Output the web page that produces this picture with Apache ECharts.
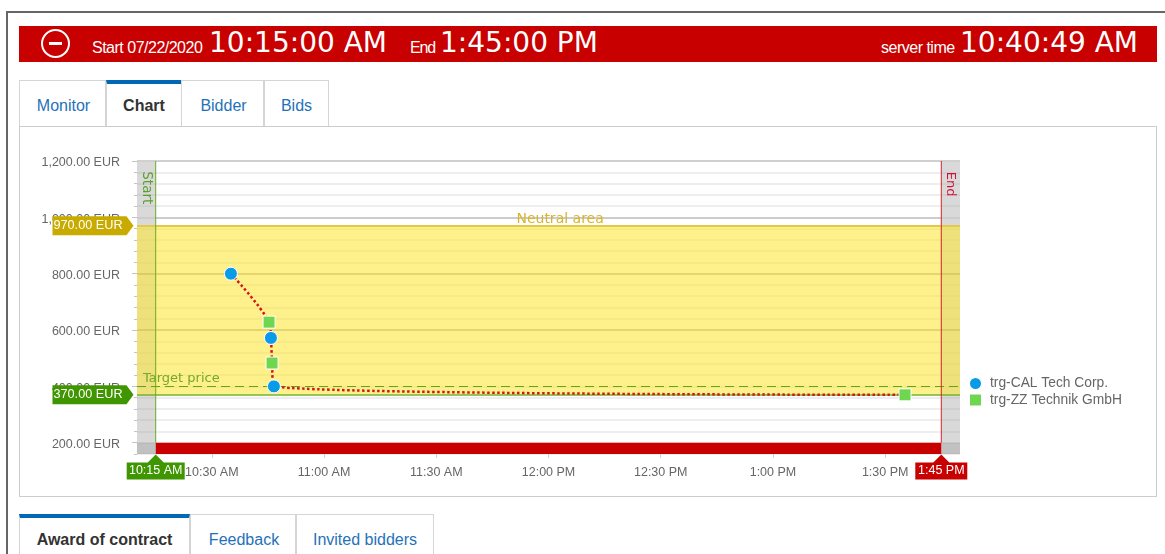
<!DOCTYPE html>
<html>
<head>
<meta charset="utf-8">
<title>Chart</title>
<script src="https://cdn.jsdelivr.net/npm/echarts@6/dist/echarts.min.js"></script>
<style>
html, body { margin: 0; padding: 0; background: #fff; overflow: hidden; }
body { width: 1165px; height: 554px; position: relative; font-family: "Liberation Sans", Arial, sans-serif; }
div { position: absolute; box-sizing: border-box; }
.txt { white-space: nowrap; color: #fff; }
.small { font-size: 16px; letter-spacing: -0.5px; top: 39px; }
.big { font-family: "DejaVu Sans", sans-serif; font-size: 28px; top: 26px; }
.tab { border: 1px solid #d5d5d5; border-bottom: 0; background: #fff; color: #1f72b8; font-size: 16px; text-align: center; }
.on { border-top: 4px solid #0068b4; color: #333; font-weight: bold; }
.nudge { padding-left: 2px; }
#main { left: 0; top: 0; width: 1165px; height: 554px; }
</style>
</head>
<body>
<div style="left:6px;top:11px;width:1159px;height:543px;border-top:2px solid #666;border-left:2px solid #666"></div>
<div style="left:19px;top:26px;width:1138px;height:36px;background:#c80000"></div>
<div style="left:41px;top:29px;width:29px;height:29px;border:2px solid #fff;border-radius:50%"></div>
<div style="left:49px;top:42px;width:13px;height:3px;background:#fff"></div>
<div class="txt small" style="left:92px">Start 07/22/2020</div>
<div class="txt big" style="left:209px">10:15:00 AM</div>
<div class="txt small" style="left:410px;letter-spacing:-1.2px">End</div>
<div class="txt big" style="left:440px">1:45:00 PM</div>
<div class="txt small" style="left:881px">server time</div>
<div class="txt big" style="left:960px">10:40:49 AM</div>

<div style="left:19px;top:126px;width:1138px;height:371px;border:1px solid #ccc"></div>
<div class="tab nudge" style="left:19px;top:80px;width:87px;height:46px;line-height:50px">Monitor</div>
<div class="tab on" style="left:106px;top:80px;width:76px;height:46px;line-height:44px">Chart</div>
<div class="tab nudge" style="left:181px;top:80px;width:83px;height:46px;line-height:50px">Bidder</div>
<div class="tab" style="left:264px;top:80px;width:65px;height:46px;line-height:50px">Bids</div>

<div class="tab on" style="left:19px;top:514px;width:171px;height:40px;line-height:44px">Award of contract</div>
<div class="tab nudge" style="left:190px;top:514px;width:106px;height:40px;line-height:50px">Feedback</div>
<div class="tab" style="left:296px;top:514px;width:138px;height:40px;line-height:50px">Invited bidders</div>

<div id="main"></div>
<script>
// minutes after midnight, price in EUR
var calBids = [[635.1, 800], [645.8, 572], [646.6, 400]];
var zzBids = [[645.3, 628], [646.1, 483], [815.3, 370]];
var yLabels = [200, 400, 600, 800, 1000, 1200];
var xLabels = [630, 660, 690, 720, 750, 780, 810];

var startTime = 615;
var endTime = 825;
var neutralTop = 970;
var neutralBottom = 370;
var targetPrice = 400;

var xMin = 610, xMax = 830;
var yMin = 160, yMax = 1200, yMinor = 40;
var allBids = calBids.concat(zzBids).sort(function (a, b) { return a[0] - b[0]; });

var sans = '"Liberation Sans", Arial, sans-serif';
var deja = '"DejaVu Sans", sans-serif';

function timeLabel(m) {
    var h = Math.floor(m / 60), mm = m % 60;
    var ap = h >= 12 ? 'PM' : 'AM';
    if (h > 12) h = h - 12;
    return h + ':' + (mm < 10 ? '0' + mm : mm) + ' ' + ap;
}
function priceLabel(v) {
    var s = v.toFixed(2);
    if (v >= 1000) s = s.charAt(0) + ',' + s.slice(1);
    return s + ' EUR';
}

// flags on the axes
function yFlag(v, color) {
    return {
        coord: [xMin, v], symbol: 'path://M0 0H74L81 9.5L74 19H0Z', symbolSize: [81, 19], symbolOffset: [-44, 0],
        itemStyle: {color: color},
        label: {show: true, position: 'inside', offset: [-5, 0], formatter: priceLabel(v), color: '#fff', fontSize: 12.7, fontFamily: sans}
    };
}
function xFlag(v, color, w) {
    var half = w / 2;
    return {
        coord: [v, yMin], symbol: 'path://M0 8H' + (half - 8) + 'L' + half + ' 0L' + (half + 8) + ' 8H' + w + 'V25H0Z', symbolSize: [w, 25], symbolOffset: [0, 13],
        itemStyle: {color: color},
        label: {show: true, position: 'inside', offset: [0, 4], formatter: timeLabel(v), color: '#fff', fontSize: 12.5, fontFamily: sans}
    };
}
function note(text, x, y, color, rotate, size) {
    return {
        coord: [x, y], symbol: 'circle', symbolSize: 1,
        itemStyle: {color: 'transparent'},
        label: {show: true, position: 'inside', formatter: text, color: color, fontSize: size, fontFamily: deja, rotate: rotate}
    };
}
// vertical line for the start and the end of the auction
function timeLine(t, color) {
    return {
        type: 'line', data: [[t, 200], [t, yMax]], showSymbol: false, silent: true, z: 5,
        lineStyle: {color: color, width: 1}
    };
}

var option = {
    animation: false,
    backgroundColor: 'transparent',
    grid: {left: 137, top: 161, width: 823, height: 293},
    legend: {
        orient: 'vertical', left: 963, top: 371, itemWidth: 13, itemHeight: 13, itemGap: 1.5,
        data: ['trg-CAL Tech Corp.', 'trg-ZZ Technik GmbH'],
        textStyle: {fontFamily: sans, fontSize: 13.8, color: '#666', padding: [0, 0, 0, 3]}
    },
    xAxis: {
        type: 'value', min: xMin, max: xMax,
        splitLine: {show: false},
        axisLine: {show: false},
        axisTick: {show: true, length: 4, customValues: xLabels, lineStyle: {color: '#c5d3e3'}},
        axisLabel: {
            customValues: xLabels, margin: 12, color: '#666', fontSize: 12.5, fontFamily: sans,
            formatter: function (v) { return timeLabel(v); }
        }
    },
    yAxis: [{
        type: 'value', min: yMin, max: yMax,
        splitLine: {show: false},
        axisLine: {show: false},
        axisTick: {show: true, length: 5, customValues: yLabels, lineStyle: {color: '#c4c4c4'}},
        axisLabel: {
            customValues: yLabels, margin: 17, color: '#666', fontSize: 12.5, fontFamily: sans, verticalAlign: 'top', lineHeight: 4,
            formatter: function (v) { return priceLabel(v); }
        }
    }, {
        type: 'value', position: 'left', min: yMin, max: yMax, interval: yMinor,
        splitLine: {show: true, lineStyle: {color: '#eeeeee', width: 2}},
        axisLine: {show: false},
        axisTick: {show: true, length: 3, lineStyle: {color: '#c4c4c4'}},
        axisLabel: {show: false}
    }],
    series: [{
        // bands, reference lines and flags
        type: 'line', data: [], silent: true,
        markArea: {
            silent: true, z: 2,
            data: [
                [{xAxis: xMin, yAxis: yMin, itemStyle: {color: 'rgba(160,160,160,0.4)'}}, {xAxis: startTime, yAxis: yMax}],
                [{xAxis: endTime, yAxis: yMin, itemStyle: {color: 'rgba(160,160,160,0.4)'}}, {xAxis: xMax, yAxis: yMax}],
                [{xAxis: xMin, yAxis: yMin, itemStyle: {color: 'rgba(140,140,140,0.3)'}}, {xAxis: startTime, yAxis: 200}],
                [{xAxis: endTime, yAxis: yMin, itemStyle: {color: 'rgba(140,140,140,0.3)'}}, {xAxis: xMax, yAxis: 200}],
                [{xAxis: startTime, yAxis: yMin, itemStyle: {color: '#c80000'}}, {xAxis: endTime, yAxis: 200}],
                [{xAxis: xMin, yAxis: neutralBottom, itemStyle: {color: 'rgba(253,230,55,0.58)'}}, {xAxis: xMax, yAxis: neutralTop}]
            ]
        },
        markLine: {
            silent: true, symbol: 'none', z: 4,
            label: {show: false},
            data: [
                {yAxis: 1200, lineStyle: {color: '#d0d0d0', width: 2, type: 'solid'}},
                {yAxis: 1000, lineStyle: {color: '#cccccc', width: 2, type: 'solid'}},
                {yAxis: 800, lineStyle: {color: 'rgba(190,170,60,0.3)', width: 2, type: 'solid'}},
                {yAxis: 600, lineStyle: {color: 'rgba(190,170,60,0.3)', width: 2, type: 'solid'}},
                {yAxis: neutralTop, lineStyle: {color: '#e3c94a', width: 2, type: 'solid'}},
                {yAxis: neutralBottom, lineStyle: {color: '#73b32e', width: 1.5, type: 'solid'}},
                {
                    yAxis: targetPrice, lineStyle: {color: '#5fa51e', width: 1.2, type: [9, 5]},
                    label: {show: true, position: 'insideStartTop', formatter: 'Target price', color: '#74a92c', fontSize: 13, fontFamily: deja, distance: [6, 1]}
                }
            ]
        },
        markPoint: {
            silent: true, z: 9,
            data: [
                note('Start', 612.6, 1105, '#5aa02c', -90, 13.5),
                note('End', 827.5, 1118, '#d0103a', -90, 13),
                note('Neutral area', 723.1, 994, '#d6b52c', 0, 14),
                yFlag(neutralTop, '#c9ab00'),
                yFlag(neutralBottom, '#3f9600'),
                xFlag(startTime, '#3f9600', 58),
                xFlag(endTime, '#c80000', 52)
            ]
        }
    },
    timeLine(startTime, '#66ad1e'),
    timeLine(endTime, '#d8202c'),
    {
        type: 'line', name: 'bids', data: allBids, smooth: 0.3, showSymbol: false, silent: true, z: 7,
        lineStyle: {color: '#d4141c', width: 2.5, type: 'dotted'}
    }, {
        type: 'scatter', name: 'trg-CAL Tech Corp.', data: calBids, symbol: 'circle', symbolSize: 13, z: 8,
        itemStyle: {color: '#0a9be8', borderColor: '#fff', borderWidth: 1, opacity: 1}
    }, {
        type: 'scatter', name: 'trg-ZZ Technik GmbH', data: zzBids, symbol: 'rect', symbolSize: 12, z: 8,
        itemStyle: {color: '#6fd64f', borderColor: '#fff', borderWidth: 1, opacity: 1}
    }]
};

var chart = echarts.init(document.getElementById('main'), null, {renderer: 'canvas'});
chart.setOption(option);
</script>
</body>
</html>
